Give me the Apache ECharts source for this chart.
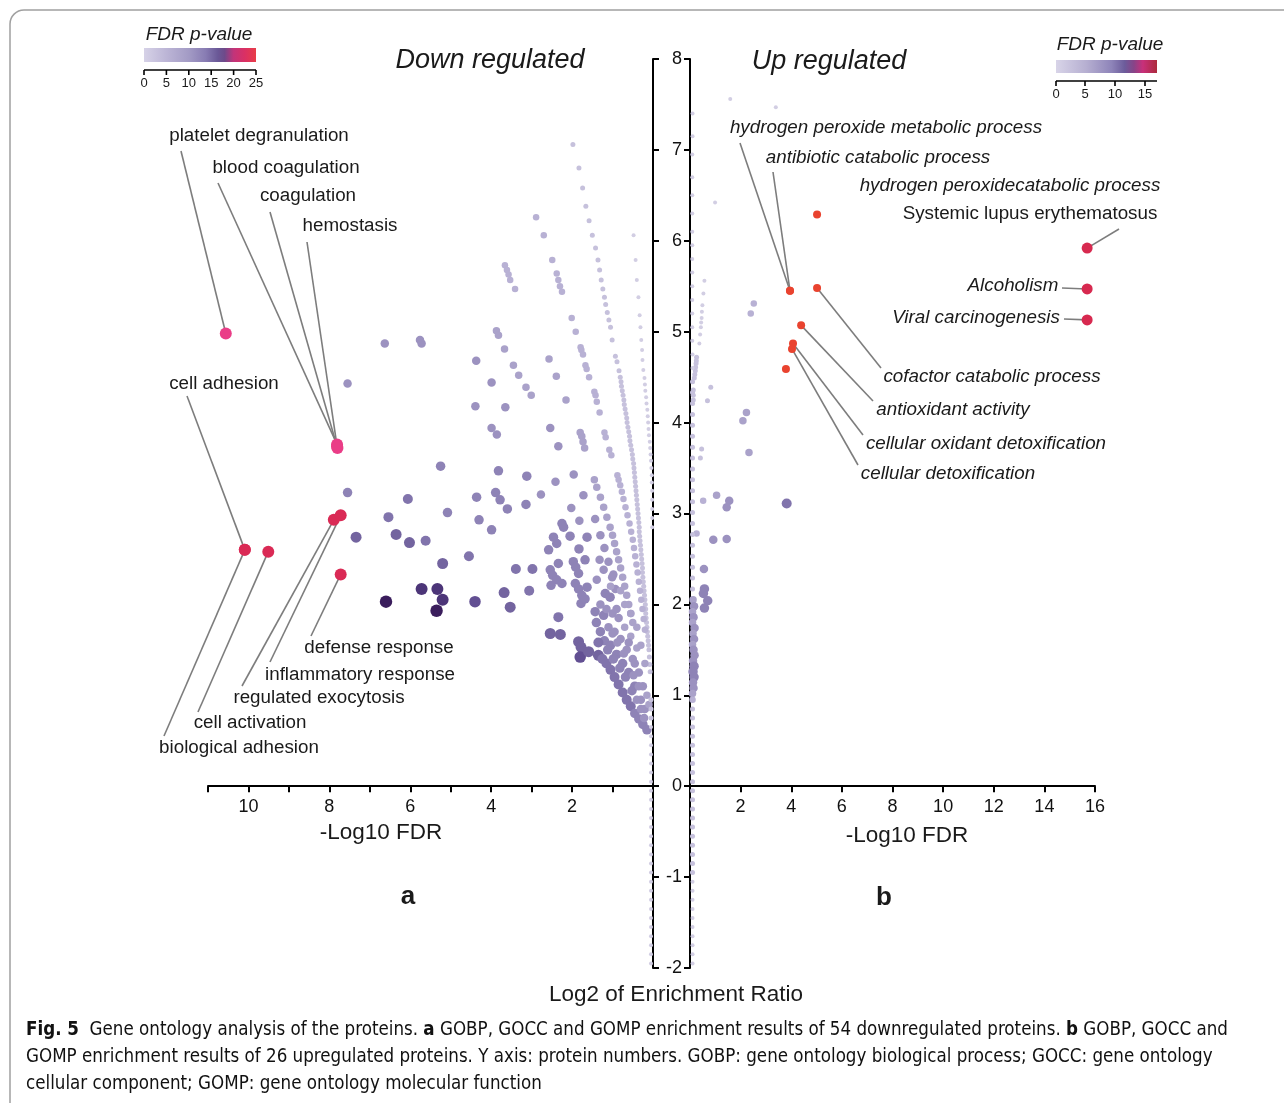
<!DOCTYPE html>
<html>
<head>
<meta charset="utf-8">
<script src="https://cdn.jsdelivr.net/npm/echarts@6/dist/echarts.min.js"></script>
<style>
html,body{margin:0;padding:0;background:#fff}
#chart{width:1284px;height:1103px}
</style>
</head>
<body>
<div id="chart"></div>
<script>
// ---- data -------------------------------------------------------------
// each term: [-log10 FDR, log2 enrichment ratio, overlap level]
const downTerms = [
  // steep ray beside the axis
  [0.48,6.06,1],[0.43,5.79,1],[0.40,5.57,1],[0.36,5.38,1],[0.33,5.18,1],[0.31,5.05,1],[0.29,4.91,1],[0.27,4.80,1],
  [0.26,4.69,1],[0.24,4.58,1],[0.21,4.49,1],[0.20,4.42,1],[0.19,4.35,1],[0.17,4.28,1],[0.16,4.21,1],[0.14,4.14,1],
  [0.13,4.07,1],[0.12,4.00,1],[0.11,3.93,1],[0.10,3.86,1],[0.08,3.79,1],[0.07,3.72,1],[0.06,3.65,1],[0.05,3.58,1],
  [0.04,3.50,1],[0.03,3.42,1],[0.03,3.34,1],[0.02,3.25,1],[0.02,3.15,1],[0.02,3.05,1],[0.02,2.95,1],[0.02,2.85,1],
  // second ray
  [1.98,7.06,2],[1.83,6.80,2],[1.74,6.58,2],[1.66,6.38,2],[1.58,6.22,2],[1.50,6.06,2],[1.42,5.92,2],[1.36,5.79,2],
  [1.32,5.68,2],[1.28,5.57,2],[1.24,5.47,2],[1.20,5.38,2],[1.17,5.30,2],[1.13,5.21,2],[1.09,5.13,2],[1.05,5.05,2],
  [1.01,4.91,2],[0.93,4.73,2],[0.89,4.67,2],[0.84,4.57,2],[0.81,4.50,2],[0.79,4.45,2],[0.78,4.40,2],[0.76,4.35,2],
  [0.74,4.30,2],[0.72,4.25,2],[0.71,4.20,2],[0.69,4.15,2],[0.67,4.10,2],[0.65,4.05,2],[0.64,4.00,2],[0.62,3.95,2],
  [0.60,3.90,2],[0.58,3.85,2],[0.57,3.80,2],[0.55,3.75,2],[0.53,3.70,2],[0.51,3.65,2],[0.50,3.60,2],[0.48,3.55,2],
  [0.47,3.50,2],[0.46,3.45,2],[0.45,3.40,2],[0.44,3.35,2],[0.43,3.30,2],[0.42,3.25,2],[0.41,3.20,2],[0.40,3.15,2],
  [0.39,3.10,2],[0.38,3.05,2],[0.37,3.00,2],[0.36,2.95,2],[0.35,2.90,2],[0.34,2.85,2],[0.34,2.80,2],[0.33,2.75,2],
  [0.32,2.70,2],[0.31,2.65,2],[0.30,2.60,2],[0.29,2.55,2],[0.28,2.50,2],[0.27,2.45,2],[0.26,2.40,2],[0.26,2.35,2],
  [0.25,2.30,2],[0.24,2.25,2],[0.23,2.20,2],[0.22,2.15,2],[0.21,2.10,2],[0.20,2.05,2],[0.19,2.00,2],[0.18,1.95,2],
  [0.18,1.90,2],[0.17,1.85,2],[0.16,1.80,2],[0.15,1.75,2],[0.14,1.70,2],[0.13,1.65,2],[0.12,1.60,2],[0.11,1.55,2],
  [0.10,1.50,2],[0.09,1.42,2],[0.08,1.34,2],[0.07,1.26,2],
  // third ray
  [2.89,6.26,3],[2.70,6.06,3],[2.49,5.79,3],[2.38,5.64,3],[2.34,5.57,3],[2.30,5.50,3],[2.25,5.44,3],[2.01,5.15,3],
  [1.91,5.00,3],[1.79,4.83,3],[1.77,4.80,3],[1.73,4.75,3],[1.67,4.63,3],[1.64,4.59,3],[1.58,4.50,3],[1.45,4.34,3],
  [1.42,4.30,3],[1.39,4.23,3],[1.32,4.11,3],[1.20,3.89,3],[1.17,3.84,3],[1.08,3.70,3],[1.03,3.64,3],[0.88,3.42,3],
  [0.85,3.37,3],[0.81,3.31,3],[0.77,3.24,3],[0.73,3.16,3],[0.68,3.07,3],[0.63,2.98,3],[0.58,2.89,3],[0.54,2.80,3],
  [0.50,2.71,3],[0.47,2.62,3],[0.44,2.53,3],[0.41,2.44,3],[0.38,2.35,3],[0.35,2.25,3],[0.32,2.15,3],[0.29,2.05,3],
  [0.26,1.95,3],[0.23,1.84,3],[0.20,1.72,3],
  [3.66,5.73,3],[3.61,5.68,3],[3.57,5.63,3],[3.53,5.57,3],[3.41,5.47,3],
  // fourth ray
  [2.57,4.70,4],[2.39,4.51,4],[2.15,4.25,4],[1.80,3.89,4],[1.76,3.85,4],[1.73,3.79,4],[1.69,3.72,4],[1.45,3.37,4],
  [1.39,3.29,4],[1.30,3.18,4],[1.22,3.07,4],[1.14,2.96,4],[1.06,2.85,4],[1.00,2.76,4],[0.95,2.67,4],[0.90,2.58,4],
  [0.85,2.49,4],[0.80,2.40,4],[0.75,2.30,4],[0.70,2.20,4],[0.65,2.10,4],[0.60,2.00,4],[0.55,1.90,4],[0.50,1.80,4],
  // fifth ray
  [3.87,5.01,4],[3.82,4.96,4],[3.67,4.81,4],[3.45,4.63,4],[3.32,4.52,4],[3.14,4.39,4],[3.01,4.30,4],[2.54,3.94,5],
  [2.34,3.74,5],[1.96,3.43,5],[1.72,3.20,5],[1.43,2.94,5],[1.30,2.76,5],[1.20,2.62,5],[1.10,2.47,5],[0.98,2.33,5],
  // scattered middle terms
  [4.37,4.68,5],[3.99,4.44,5],[4.39,4.18,5],[3.65,4.17,5],[3.99,3.94,5],[3.86,3.87,5],[5.76,4.91,5],[5.72,4.87,5],
  [6.63,4.87,5],[7.55,4.43,5],[5.25,3.52,6],[3.82,3.47,6],[3.12,3.41,6],[2.41,3.35,5],[4.36,3.18,6],[3.89,3.23,6],
  [3.78,3.15,6],[3.60,3.05,6],[3.14,3.10,6],[2.77,3.21,5],[2.02,3.06,5],[2.25,2.89,6],[2.21,2.85,6],[1.82,2.92,5],
  [6.06,3.16,7],[5.08,3.01,6],[4.30,2.93,6],[3.99,2.82,6],[2.46,2.74,6],[2.38,2.67,6],[2.05,2.75,6],[1.63,2.74,6],
  [7.55,3.23,6],[7.34,2.74,8],[6.54,2.96,7],[6.35,2.77,8],[6.02,2.68,8],[5.62,2.70,7],[4.55,2.53,7],[5.20,2.45,8],
  [5.72,2.17,10],[5.33,2.17,10],[5.20,2.05,10],[5.35,1.93,11],[6.60,2.03,11],[4.40,2.03,9],[3.68,2.13,8],[3.53,1.97,8],
  [3.39,2.39,7],[3.06,2.15,7],[2.98,2.39,7],[2.58,2.60,6],[1.83,2.61,6],[1.68,2.49,6],[2.34,2.45,6],[2.54,2.38,6],
  [2.48,2.32,6],[2.38,2.27,6],[2.52,2.21,6],[2.25,2.23,6],[1.97,2.47,6],[1.91,2.41,6],[1.84,2.34,6],[1.92,2.23,6],
  [1.84,2.17,6],[1.76,2.10,6],[1.78,2.01,6],[1.68,2.06,6],[1.63,2.19,6],[1.39,2.27,5],[1.32,2.49,5],[1.22,2.38,5],
  [1.18,2.12,6],[1.01,2.30,5],[1.06,2.08,6],[0.93,2.17,5],[1.43,1.92,6],[1.22,1.88,6],[2.34,1.86,7],[2.54,1.68,8],
  [2.29,1.67,8],[1.84,1.59,8],[1.78,1.53,8],[1.72,1.48,8],[1.80,1.42,9],[1.59,1.48,8],[1.35,1.44,8],
  // dense cluster near the origin
  [1.25,1.40,7],[1.15,1.35,7],[1.05,1.28,7],[0.95,1.20,7],[0.85,1.12,7],[0.75,1.03,7],[0.65,0.95,7],[0.55,0.88,7],
  [0.45,0.80,6],[0.35,0.74,6],[0.25,0.68,6],[0.15,0.62,6],[1.20,1.60,6],[1.05,1.55,6],[0.90,1.45,6],[0.75,1.35,6],
  [0.60,1.25,6],[0.45,1.10,6],[0.30,0.95,5],[0.20,0.85,5],[1.10,1.75,5],[0.95,1.70,5],[0.80,1.62,5],[0.65,1.50,5],
  [0.50,1.40,5],[0.35,1.25,5],[0.25,1.10,5],[1.00,1.90,5],[0.85,1.85,5],[0.70,1.75,4],[0.55,1.65,4],[0.40,1.52,4],
  [0.15,1.00,4],[0.70,2.00,4],[0.55,1.90,4],[0.40,1.75,4],[0.30,1.55,4],[0.20,1.35,4],[0.10,0.90,4],[1.30,1.70,6],
  [1.40,1.80,6],[1.15,1.95,5],[0.90,1.95,5],[1.30,2.00,5],[0.80,2.15,4],[1.05,2.20,4],
  [1.12,1.50,6],[0.98,1.40,6],[0.82,1.30,6],[0.68,1.20,6],[0.52,1.05,6],[0.40,0.95,5],[0.30,0.85,5],[0.22,0.75,5],
  [1.35,1.58,7],[0.60,1.58,5],[0.45,1.35,5],[0.35,1.10,5],[0.48,1.22,5],[0.72,1.46,5],[0.88,1.58,5],[1.00,1.68,5],
  // terms with FDR = 1 along the axis
  [0.05,0.95,2],[0.05,0.85,2],[0.05,0.75,2],[0.05,0.65,1],[0.05,0.55,1],[0.05,0.45,1],[0.05,0.35,1],[0.05,0.25,1],
  [0.05,0.15,1],[0.05,0.05,1],[0.05,-0.05,1],[0.05,-0.15,1],[0.05,-0.25,1],[0.05,-0.35,1],[0.05,-0.45,1],[0.05,-0.55,1],
  [0.05,-0.65,1],[0.05,-0.75,1],[0.05,-0.85,1],[0.05,-0.95,1],[0.05,-1.05,1],[0.05,-1.15,1],[0.05,-1.25,1],[0.05,-1.35,1],
  [0.05,-1.45,1],[0.05,-1.55,1],[0.05,-1.65,1],[0.05,-1.75,1],[0.05,-1.85,1],[0.05,-1.95,1]
];

const upTerms = [
  [1.59,7.56,1],[3.39,7.47,1],[0.99,6.42,1],[0.57,5.56,1],[0.53,5.42,1],[0.49,5.29,1],[0.47,5.22,1],[0.46,5.15,1],
  [0.44,5.10,1],[0.43,5.05,1],[0.40,4.97,1],[0.37,4.87,1],[0.26,4.72,2],[0.25,4.68,2],[0.24,4.65,2],[0.22,4.61,2],
  [0.21,4.57,2],[0.19,4.53,2],[0.17,4.49,2],[0.13,4.36,2],[0.13,4.30,2],[0.13,4.25,2],[0.82,4.39,2],[0.69,4.24,2],
  [2.52,5.31,3],[2.40,5.20,3],[2.23,4.11,4],[2.09,4.02,4],[2.33,3.67,4],[0.46,3.71,2],[0.41,3.61,2],[3.82,3.11,7],
  [1.05,3.20,4],[0.52,3.14,3],[1.55,3.14,5],[1.45,3.07,5],[0.26,2.78,3],[0.92,2.71,5],[1.45,2.72,5],[0.55,2.39,5],
  [0.57,2.17,6],[0.53,2.12,6],[0.70,2.04,6],[0.57,1.96,6],
  // terms along the axis
  [0.10,7.40,1],[0.10,7.15,1],[0.09,6.95,1],[0.09,6.70,1],[0.09,6.50,1],[0.09,6.30,1],[0.09,6.10,1],[0.09,5.95,1],
  [0.09,5.80,1],[0.09,5.65,1],[0.09,5.50,1],[0.09,5.35,1],[0.09,5.20,1],[0.09,5.05,1],[0.09,4.90,1],[0.10,4.75,1],
  [0.10,4.60,1],[0.10,4.45,2],[0.10,4.33,2],[0.10,4.21,2],[0.10,4.09,2],[0.10,3.97,2],[0.10,3.85,2],[0.10,3.73,2],
  [0.10,3.61,2],[0.10,3.49,2],[0.10,3.37,2],[0.10,3.25,2],[0.10,3.13,2],[0.10,3.01,2],[0.10,2.89,2],[0.10,2.77,2],
  [0.10,2.65,2],[0.10,2.53,2],[0.10,2.41,2],[0.10,2.29,2],[0.10,2.17,2],[0.12,2.05,4],[0.16,1.98,5],[0.10,1.92,4],
  [0.14,1.86,5],[0.10,1.80,4],[0.18,1.74,5],[0.12,1.68,4],[0.16,1.62,5],[0.10,1.56,4],[0.14,1.50,5],[0.18,1.44,5],
  [0.12,1.38,5],[0.16,1.32,6],[0.12,1.26,6],[0.16,1.20,6],[0.12,1.14,5],[0.14,1.08,5],[0.10,1.02,4],[0.10,0.95,3],
  [0.10,0.85,2],[0.10,0.75,2],[0.10,0.65,2],[0.10,0.55,2],[0.10,0.45,2],[0.10,0.35,2],[0.10,0.25,2],[0.10,0.15,2],
  [0.10,0.05,2],[0.10,-0.05,2],[0.10,-0.15,2],[0.10,-0.25,2],[0.10,-0.35,2],[0.10,-0.45,2],[0.10,-0.55,2],[0.10,-0.65,2],
  [0.10,-0.75,2],[0.10,-0.85,2],[0.10,-0.95,2],[0.10,-1.05,1],[0.10,-1.15,1],[0.10,-1.25,1],[0.10,-1.35,1],[0.10,-1.45,1],
  [0.10,-1.55,1],[0.10,-1.65,1],[0.10,-1.75,1],[0.10,-1.85,1],[0.10,-1.95,1]
];

// highlighted terms: [-log10 FDR, log2 enrichment ratio, term]
const downHighlights = [
  [10.56,4.98,'platelet degranulation'],
  [7.81,3.76,'blood coagulation'],[7.80,3.72,'coagulation'],[7.81,3.74,'hemostasis'],
  [10.09,2.60,'cell adhesion'],[10.09,2.60,'biological adhesion'],[9.51,2.58,'cell activation'],
  [7.89,2.93,'regulated exocytosis'],[7.72,2.98,'inflammatory response'],[7.72,2.33,'defense response']
];
const upHighlights = [
  [3.95,5.45,'hydrogen peroxide metabolic process'],[3.95,5.45,'antibiotic catabolic process'],
  [5.02,6.29,'hydrogen peroxidecatabolic process'],[5.02,5.48,'cofactor catabolic process'],
  [4.39,5.07,'antioxidant activity'],[4.07,4.87,'cellular oxidant detoxification'],
  [4.03,4.81,'cellular detoxification'],[3.79,4.59,'cellular response to toxic substance'],
  [15.69,5.92,'Systemic lupus erythematosus'],[15.69,5.47,'Alcoholism'],[15.69,5.13,'Viral carcinogenesis']
];
const keggTerms = ['Systemic lupus erythematosus','Alcoholism','Viral carcinogenesis'];
const pinkTerms = ['platelet degranulation','blood coagulation','coagulation','hemostasis'];

// axes and legend ticks
const yRange = [-2, 8];
const downFdrMax = 11;
const upFdrMax = 16;
const downLegendTicks = [0,5,10,15,20,25];
const upLegendTicks = [0,5,10,15];

// ---- layout -----------------------------------------------------------
const FONT = '"Liberation Sans", Arial, Helvetica, sans-serif';
const levelColors = ['#d2cee3','#c6c1dc','#b8b1d4','#aaa2ca','#9c92c0','#8e83b6','#8174ac','#73649f','#624f92','#4c3578','#3a1d5c'];
const levelSizes = [4, 5, 6.5, 7.5, 8.5, 9.5, 10, 11, 11.5, 12, 12.5];

// label text centre, leader start (pixels)
const downLabelLayout = {
  'platelet degranulation': {at:[259,136], from:[181,151]},
  'blood coagulation': {at:[286,168], from:[218,183]},
  'coagulation': {at:[308,196], from:[270,212]},
  'hemostasis': {at:[350,226], from:[307,242]},
  'cell adhesion': {at:[224,384], from:[187,396]},
  'defense response': {at:[379,648], from:[311,636]},
  'inflammatory response': {at:[360,675], from:[270,662]},
  'regulated exocytosis': {at:[319,698], from:[242,686]},
  'cell activation': {at:[250,723], from:[198,712]},
  'biological adhesion': {at:[239,748], from:[164,736]}
};
const upLabelLayout = {
  'hydrogen peroxide metabolic process': {at:[886,128], from:[740,143]},
  'antibiotic catabolic process': {at:[878,158], from:[773,172]},
  'hydrogen peroxidecatabolic process': {at:[1010,186]},
  'Systemic lupus erythematosus': {at:[1030,214], from:[1119,229], upright:true},
  'Alcoholism': {at:[1013,286], from:[1062,288]},
  'Viral carcinogenesis': {at:[976,318], from:[1064,319]},
  'cofactor catabolic process': {at:[992,377], from:[881,368]},
  'antioxidant activity': {at:[953,410], from:[873,401]},
  'cellular oxidant detoxification': {at:[986,444], from:[863,435]},
  'cellular detoxification': {at:[948,474], from:[858,465]}
};

const chart = echarts.init(document.getElementById('chart'), null, {renderer:'canvas'});

const gridTop = 59, gridHeight = 909;
// x axes sit on y = 0: shift them up from the grid bottom
const zeroOffset = -gridHeight * (0 - yRange[0]) / (yRange[1] - yRange[0]);
const axisLineStyle = {color:'#000', width:2};

function yAxisCommon(extra) {
  return Object.assign({
    type:'value', min:yRange[0], max:yRange[1], interval:1,
    axisLine:{show:true, onZero:false, lineStyle:axisLineStyle},
    axisTick:{show:true, length:6, lineStyle:{color:'#000', width:2}},
    splitLine:{show:false}
  }, extra);
}
function xAxisCommon(extra) {
  return Object.assign({
    type:'value', position:'bottom', offset:zeroOffset,
    axisLine:{show:true, onZero:false, lineStyle:axisLineStyle},
    axisTick:{show:true, length:6, lineStyle:{color:'#000', width:2}},
    splitLine:{show:false}
  }, extra);
}

chart.setOption({
  animation:false,
  backgroundColor:'#ffffff',
  grid:[
    {left:208, top:gridTop, width:445, height:gridHeight},
    {left:690, top:gridTop, width:405, height:gridHeight}
  ],
  xAxis:[
    xAxisCommon({gridIndex:0, min:0, max:downFdrMax, interval:1, inverse:true,
     axisLabel:{margin:12, fontSize:18, color:'#111', fontFamily:FONT,
       formatter:v => (v > 0 && v % 2 === 0) ? String(v) : ''}}),
    xAxisCommon({gridIndex:1, min:0, max:upFdrMax, interval:2,
     axisLabel:{margin:12, fontSize:18, color:'#111', fontFamily:FONT,
       formatter:v => v > 0 ? String(v) : ''}})
  ],
  yAxis:[
    yAxisCommon({gridIndex:0, position:'right', axisLabel:{show:false}}),
    yAxisCommon({gridIndex:1, position:'left',
      axisLabel:{show:true, margin:8, fontSize:18, color:'#111', fontFamily:FONT}})
  ],
  visualMap:{
    show:false, type:'continuous', dimension:2, min:1, max:11, seriesIndex:[0,1],
    inRange:{color:levelColors}
  },
  series:[
    {type:'scatter', xAxisIndex:0, yAxisIndex:0, data:downTerms, symbol:'circle',
     symbolSize:v => levelSizes[v[2] - 1], itemStyle:{opacity:1}, z:2},
    {type:'scatter', xAxisIndex:1, yAxisIndex:1, data:upTerms, symbol:'circle',
     symbolSize:v => levelSizes[v[2] - 1], itemStyle:{opacity:1}, z:2},
    {type:'scatter', xAxisIndex:0, yAxisIndex:0, symbol:'circle', z:4,
     data:downHighlights.map(d => ({value:[d[0], d[1]], name:d[2],
       itemStyle:{color: pinkTerms.includes(d[2]) ? '#ea3d87' : '#da2a55', opacity:1}})),
     symbolSize:12},
    {type:'scatter', xAxisIndex:1, yAxisIndex:1, symbol:'circle', z:4,
     data:upHighlights.map(d => ({value:[d[0], d[1]], name:d[2],
       symbolSize: keggTerms.includes(d[2]) ? 11 : 8,
       itemStyle:{color: keggTerms.includes(d[2]) ? '#d7294f' : '#e9432f', opacity:1}}))}
  ]
});

// ---- annotations ------------------------------------------------------
const g = [];
function text(x, y, str, font, extra) {
  g.push(Object.assign({type:'text', x:x, y:y, z:10,
    style:{text:str, font:font, fill:'#1a1a1a', textAlign:'center', textVerticalAlign:'middle'}}, extra || {}));
}
function line(x1, y1, x2, y2, color, w) {
  g.push({type:'line', z:1, shape:{x1:x1, y1:y1, x2:x2, y2:y2},
    style:{stroke:color || '#7d7d7d', lineWidth:w || 1.6}});
}

// figure frame
g.push({type:'rect', z:0, shape:{x:10, y:10, width:1300, height:1110, r:14},
  style:{fill:'none', stroke:'#a0a0a0', lineWidth:1.5}});

// panel titles
text(490, 60, 'Down regulated', 'italic 27px ' + FONT);
text(829, 61, 'Up regulated', 'italic 27px ' + FONT);
text(408, 897, 'a', 'bold 26px ' + FONT);
text(884, 898, 'b', 'bold 26px ' + FONT);
text(381, 833, '-Log10 FDR', '22.5px ' + FONT);
text(907, 836, '-Log10 FDR', '22.5px ' + FONT);
text(676, 995, 'Log2 of Enrichment Ratio', '22.5px ' + FONT);

// colour legends
function legend(title, tx, ty, bx, by, bw, bh, ticks, tickPos, stops) {
  text(tx, ty, title, 'italic 19px ' + FONT);
  g.push({type:'rect', z:5, shape:{x:bx, y:by, width:bw, height:bh},
    style:{fill:new echarts.graphic.LinearGradient(0, 0, 1, 0, stops)}});
  const ay = by + bh + 8;
  line(bx, ay, bx + bw, ay, '#000', 1.6);
  ticks.forEach((t, i) => {
    line(tickPos[i], ay, tickPos[i], ay + 5, '#000', 1.6);
    text(tickPos[i], ay + 13, String(t), '13px ' + FONT);
  });
}
legend('FDR p-value', 199, 35, 144, 48, 112, 14, downLegendTicks, [144,166.4,188.8,211.2,233.6,256], [
  {offset:0, color:'#d6d2e7'},{offset:0.2, color:'#bcb5d6'},{offset:0.4, color:'#a39bc5'},
  {offset:0.55, color:'#887cb3'},{offset:0.66, color:'#6a5897'},{offset:0.72, color:'#6e4a8a'},
  {offset:0.8, color:'#c2347a'},{offset:0.9, color:'#da3064'},{offset:1, color:'#e83c48'}]);
legend('FDR p-value', 1110, 45, 1056, 60, 101, 13, upLegendTicks, [1056,1085,1115,1145], [
  {offset:0, color:'#d8d4e8'},{offset:0.3, color:'#b6afd1'},{offset:0.55, color:'#8e84b9'},
  {offset:0.68, color:'#6c5c9b'},{offset:0.77, color:'#874488'},{offset:0.86, color:'#c8307a'},
  {offset:1, color:'#ac2a3c'}]);

// term labels with leader lines to their points
function annotate(list, layout, grid, italic) {
  list.forEach(d => {
    const lay = layout[d[2]];
    if (!lay) return;
    const upright = !italic || lay.upright;
    text(lay.at[0], lay.at[1], d[2], (upright ? '' : 'italic ') + '18.8px ' + FONT);
    if (lay.from) {
      const p = chart.convertToPixel({gridIndex:grid}, [d[0], d[1]]);
      line(lay.from[0], lay.from[1], p[0], p[1]);
    }
  });
}
annotate(downHighlights, downLabelLayout, 0, false);
annotate(upHighlights, upLabelLayout, 1, true);

// caption
const capFont = '"Liberation Sans Narrow", "DejaVu Sans Condensed", sans-serif';
const capRich = {b:{fontWeight:'bold', fontFamily:capFont, fontSize:18.6, fill:'#111'}};
[
  '{b|Fig. 5}  Gene ontology analysis of the proteins. {b|a} GOBP, GOCC and GOMP enrichment results of 54 downregulated proteins. {b|b} GOBP, GOCC and',
  'GOMP enrichment results of 26 upregulated proteins. Y axis: protein numbers. GOBP: gene ontology biological process; GOCC: gene ontology',
  'cellular component; GOMP: gene ontology molecular function'
].forEach((s, i) => {
  g.push({type:'text', x:26, y:1030 + i * 27, z:10,
    style:{text:s, font:'18.6px ' + capFont, fill:'#111', textAlign:'left', textVerticalAlign:'middle', rich:capRich}});
});

chart.setOption({graphic:g});
</script>
</body>
</html>
